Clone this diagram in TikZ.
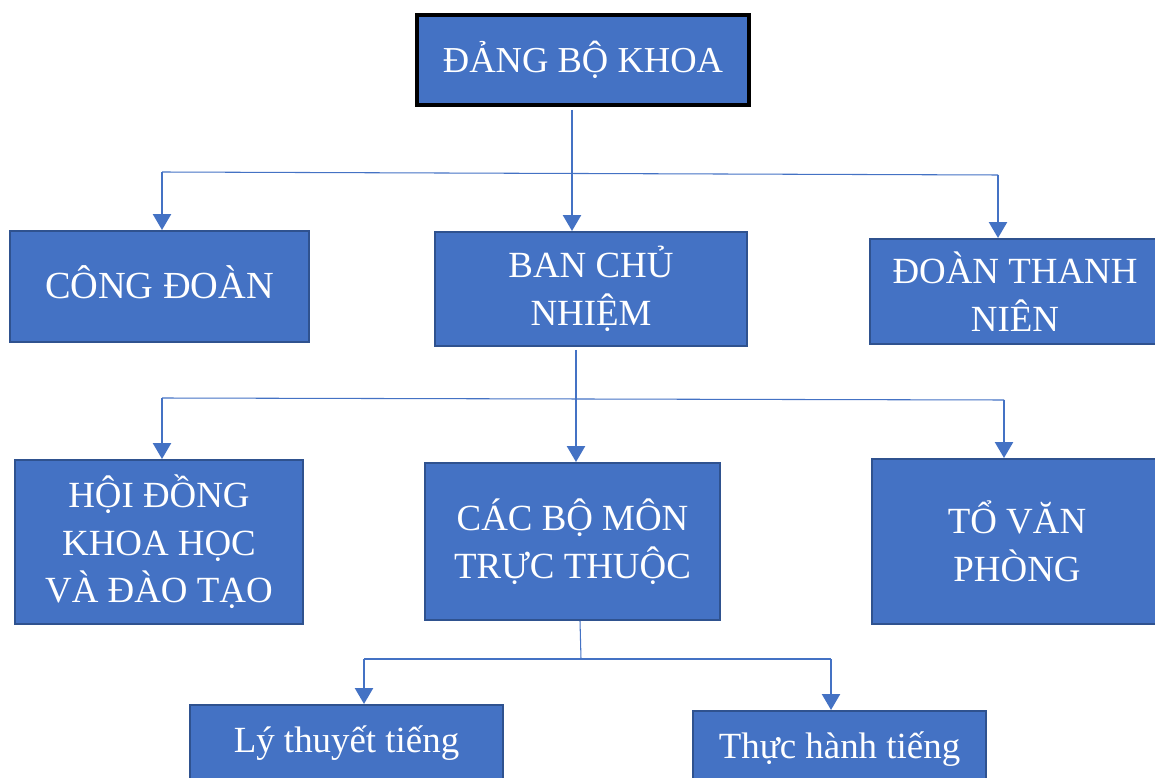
\documentclass[tikz,border=0pt]{standalone}
\usepackage{fontspec}
\setmainfont{Liberation Serif}
\usetikzlibrary{arrows.meta}
\definecolor{boxblue}{RGB}{68,114,196}
\definecolor{boxedge}{RGB}{47,82,143}
\tikzstyle{orgbox}=[rectangle, fill=boxblue, draw=boxedge, line width=1.1pt, text=white, inner sep=0pt,
align=center, font=\fontsize{21}{27}\selectfont]
\tikzstyle{topbox}=[orgbox, draw=black, line width=1.8pt, font=\fontsize{20.8}{26}\selectfont]
\tikzstyle{lowbox}=[orgbox, anchor=north, text height=9.6mm, text depth=12mm]
\tikzstyle{arr}=[-{Triangle[width=3.6mm,length=3.2mm]}, line width=1.4pt, boxblue]
\tikzstyle{hline}=[-, line width=0.6pt, boxblue]

\begin{document}
\begin{tikzpicture}[x=0.2mm, y=-0.2mm]
\useasboundingbox (0,0) rectangle (1155,778);

    \node (dbk) [topbox, minimum width=66.4mm, minimum height=18mm] at (583,60) {ĐẢNG BỘ KHOA};

    \node (cd) [orgbox, minimum width=59.8mm, minimum height=22.2mm, font=\fontsize{21.8}{27}\selectfont, text depth=1.8mm] at (159.5,286.5) {CÔNG ĐOÀN};
    \node (bcn) [orgbox, minimum width=62.4mm, minimum height=22.8mm] at (591,289) {BAN CHỦ\\NHIỆM};
    \node (dtn) [orgbox, minimum width=58mm, minimum height=21mm] at (1015,291.5) {ĐOÀN THANH\\NIÊN};

    \node (hd) [orgbox, minimum width=57.6mm, minimum height=32.8mm] at (159,542) {HỘI ĐỒNG\\KHOA HỌC\\VÀ ĐÀO TẠO};
    \node (cbm) [orgbox, minimum width=59mm, minimum height=31.4mm] at (572.5,541.5) {CÁC BỘ MÔN\\TRỰC THUỘC};
    \node (tvp) [orgbox, minimum width=58mm, minimum height=33mm] at (1017,541.5) {TỔ VĂN\\PHÒNG};

    \node (lt) [lowbox, minimum width=62.6mm] at (346.5,704) {Lý thuyết tiếng};
    \node (th) [lowbox, minimum width=58.6mm] at (839.5,710) {Thực hành tiếng};

%Lines ..
    \coordinate (a1) at (572,110);
    \coordinate (h1l) at (162,172);
    \coordinate (h1r) at (998,175);
    \draw[arr] (a1) -- (a1 |- bcn.north);
    \draw[hline] (h1l) -- (h1r);
    \draw[arr] (h1l) -- (h1l |- cd.north);
    \draw[arr] (h1r) -- (h1r |- dtn.north);

    \coordinate (a2) at (576,350);
    \coordinate (h2l) at (162,398);
    \coordinate (h2r) at (1004,400);
    \draw[arr] (a2) -- (a2 |- cbm.north);
    \draw[hline] (h2l) -- (h2r);
    \draw[arr] (h2l) -- (h2l |- hd.north);
    \draw[arr] (h2r) -- (h2r |- tvp.north);

    \coordinate (a3) at (580,621);
    \coordinate (h3m) at (581,659);
    \coordinate (h3l) at (364,659);
    \coordinate (h3r) at (831,659);
    \draw[hline] (a3) -- (h3m);
    \draw[hline] (h3l) -- (h3r);
    \draw[arr] (h3l) -- (h3l |- lt.north);
    \draw[arr] (h3r) -- (h3r |- th.north);

\end{tikzpicture}
\end{document}
